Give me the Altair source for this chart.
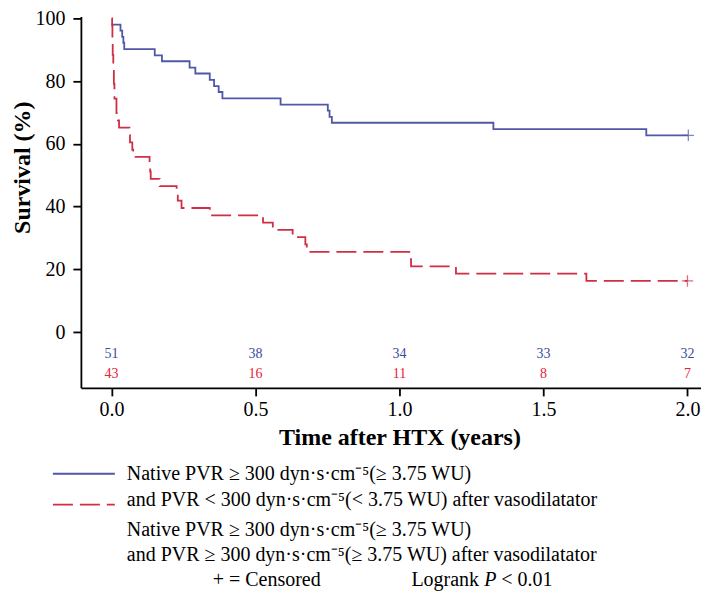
import altair as alt
import pandas as pd

# ---- data ----
blue_time = [0.0, 0.031, 0.037, 0.041, 0.044, 0.150, 0.175, 0.271, 0.291, 0.341,
             0.356, 0.372, 0.385, 0.587, 0.751, 0.757, 0.765, 1.326, 1.857, 2.003]
blue_surv = [98.0, 96.1, 94.1, 92.2, 90.2, 88.2, 86.3, 84.3, 82.4, 80.4,
             78.4, 76.5, 74.5, 72.5, 70.6, 68.6, 66.7, 64.7, 62.7, 62.7]

red_time = [0.0, 0.002, 0.003, 0.004, 0.006, 0.008, 0.010, 0.017, 0.022, 0.026,
            0.062, 0.064, 0.072, 0.075, 0.132, 0.134, 0.136, 0.167, 0.226, 0.230,
            0.243, 0.341, 0.526, 0.560, 0.629, 0.673, 0.678, 1.034, 1.040, 1.196,
            1.649, 2.000]
red_surv = [100.0, 97.67, 93.02, 88.37, 83.72, 79.07, 74.42, 69.77, 67.44, 65.12,
            62.79, 60.47, 58.14, 55.81, 53.49, 51.16, 48.84, 46.51, 44.19, 41.86,
            39.53, 37.21, 34.88, 32.56, 30.23, 27.91, 25.58, 23.26, 20.93, 18.60,
            16.28, 16.28]

risk_time = [0.0, 0.5, 1.0, 1.5, 2.0]
risk_blue = [51, 38, 34, 33, 32]
risk_red = [43, 16, 11, 8, 7]

x_ticks = [0.0, 0.5, 1.0, 1.5, 2.0]
y_ticks = [0, 20, 40, 60, 80, 100]

legend_lines = [
    "Native PVR ≥ 300 dyn·s·cm⁻⁵(≥ 3.75 WU)",
    "and PVR < 300 dyn·s·cm⁻⁵(< 3.75 WU) after vasodilatator",
    "Native PVR ≥ 300 dyn·s·cm⁻⁵(≥ 3.75 WU)",
    "and PVR ≥ 300 dyn·s·cm⁻⁵(≥ 3.75 WU) after vasodilatator",
]
censor_text = "+ = Censored"
logrank_parts = ["Logrank", "P", "< 0.01"]

BLUE = "#5157a8"
RED = "#cf2f45"
BLUE_TXT = "#3d4b9e"
RED_TXT = "#e8213a"
FONT = "Liberation Serif"

xscale = alt.Scale(domain=[-0.1065, 2.047], nice=False, zero=False)
yscale = alt.Scale(domain=[-17.8, 100.6], nice=False, zero=False)

df_blue = pd.DataFrame({"time": blue_time, "surv": blue_surv})
df_red = pd.DataFrame({"time": red_time, "surv": red_surv})

xaxis = alt.Axis(values=x_ticks, format=".1f", title="Time after HTX (years)",
                 grid=False, domainColor="black", domainWidth=1.8, tickColor="black",
                 tickWidth=1.8, tickSize=8, labelFont=FONT, labelFontSize=20,
                 labelColor="black", labelPadding=4, titleFont=FONT, titleFontSize=24,
                 titleFontWeight="bold", titleColor="black", titleX=319, titleY=57,
                 titleBaseline="alphabetic")
yaxis = alt.Axis(values=y_ticks, title="Survival (%)", grid=False, domainColor="black",
                 domainWidth=1.8, tickColor="black", tickWidth=1.8, tickSize=8,
                 labelFont=FONT, labelFontSize=20, labelColor="black", labelPadding=8,
                 titleFont=FONT, titleFontSize=24, titleFontWeight="bold",
                 titleColor="black", titleX=-58, titleY=151, titleAngle=270,
                 titleBaseline="middle", titleAlign="center")

blue_line = alt.Chart(df_blue).mark_line(interpolate="step-after", color=BLUE,
                                          strokeWidth=1.8).encode(
    x=alt.X("time:Q", scale=xscale, axis=xaxis),
    y=alt.Y("surv:Q", scale=yscale, axis=yaxis),
)
red_line = alt.Chart(df_red).mark_line(interpolate="step-after", color=RED,
                                        strokeWidth=1.8, strokeDash=[20, 7]).encode(
    x=alt.X("time:Q", scale=xscale),
    y=alt.Y("surv:Q", scale=yscale),
)

plus = "M-1,0L1,0M0,-1L0,1"
df_cens = pd.DataFrame({
    "time": [blue_time[-1], red_time[-1]],
    "surv": [blue_surv[-1], red_surv[-1]],
    "grp": ["blue", "red"],
})
censor = alt.Chart(df_cens).mark_point(shape=plus, filled=False, size=130,
                                       strokeWidth=1.3).encode(
    x=alt.X("time:Q", scale=xscale),
    y=alt.Y("surv:Q", scale=yscale),
    color=alt.Color("grp:N", scale=alt.Scale(domain=["blue", "red"], range=[BLUE, RED]),
                    legend=None),
)

df_risk_b = pd.DataFrame({"time": risk_time, "n": risk_blue})
df_risk_r = pd.DataFrame({"time": risk_time, "n": risk_red})
risk_b = alt.Chart(df_risk_b).mark_text(font=FONT, fontSize=14, color=BLUE_TXT,
                                        baseline="middle").encode(
    x=alt.X("time:Q", scale=xscale), y=alt.value(338), text="n:Q")
risk_r = alt.Chart(df_risk_r).mark_text(font=FONT, fontSize=14, color=RED_TXT,
                                        baseline="middle").encode(
    x=alt.X("time:Q", scale=xscale), y=alt.value(358), text="n:Q")

# legend
leg_blue = alt.Chart(pd.DataFrame({"k": [0]})).mark_rule(color=BLUE, strokeWidth=1.8).encode(
    x=alt.value(-28), x2=alt.value(34), y=alt.value(458))
leg_red = alt.Chart(pd.DataFrame({"k": [0]})).mark_rule(color=RED, strokeWidth=1.8,
                                                        strokeDash=[20, 7]).encode(
    x=alt.value(-28), x2=alt.value(34), y=alt.value(489))

leg_y = [458, 484, 514, 539]
leg_texts = []
for line, yy in zip(legend_lines, leg_y):
    leg_texts.append(
        alt.Chart(pd.DataFrame({"label": [line]})).mark_text(
            font=FONT, fontSize=20, color="black", align="left", baseline="middle"
        ).encode(x=alt.value(46), y=alt.value(yy), text="label:N")
    )

TXT_Y = 564
cens_txt = alt.Chart(pd.DataFrame({"label": [censor_text]})).mark_text(
    font=FONT, fontSize=20, color="black", align="left", baseline="middle"
).encode(x=alt.value(132), y=alt.value(TXT_Y), text="label:N")
lr1 = alt.Chart(pd.DataFrame({"label": [logrank_parts[0]]})).mark_text(
    font=FONT, fontSize=20, color="black", align="left", baseline="middle"
).encode(x=alt.value(331), y=alt.value(TXT_Y), text="label:N")
lr2 = alt.Chart(pd.DataFrame({"label": [logrank_parts[1]]})).mark_text(
    font=FONT, fontSize=20, color="black", align="left", baseline="middle", fontStyle="italic"
).encode(x=alt.value(404), y=alt.value(TXT_Y), text="label:N")
lr3 = alt.Chart(pd.DataFrame({"label": [logrank_parts[2]]})).mark_text(
    font=FONT, fontSize=20, color="black", align="left", baseline="middle"
).encode(x=alt.value(421), y=alt.value(TXT_Y), text="label:N")

chart = alt.layer(
    blue_line, red_line, censor, risk_b, risk_r, leg_blue, leg_red,
    *leg_texts, cens_txt, lr1, lr2, lr3
).properties(
    width=621, height=372,
    padding={"left": 73, "top": 8, "right": 0, "bottom": 203},
    autosize=alt.AutoSizeParams(type="none"),
).configure_view(stroke=None)

chart.save("out.html", embed_options={"renderer": "svg", "actions": False})
